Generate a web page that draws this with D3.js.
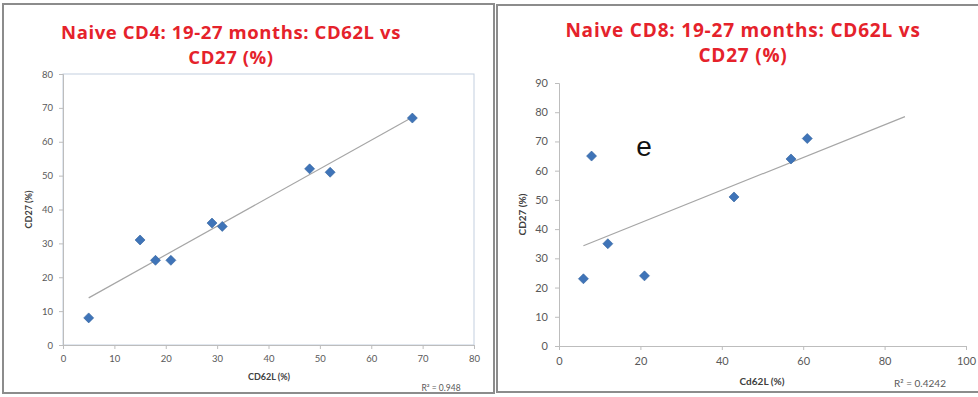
<!DOCTYPE html>
<html>
<head>
<meta charset="utf-8">
<script src="https://cdn.jsdelivr.net/npm/d3@7"></script>
<style>
  body { margin: 0; background: #fff; }
  svg { display: block; }
</style>
</head>
<body>
<svg width="978" height="397"></svg>
<script>
// left panel: naive CD4
var cd4X = [5, 15, 18, 21, 29, 31, 48, 52, 68];
var cd4Y = [8, 31, 25, 25, 36, 35, 52, 51, 67];
var cd4XTicks = [0, 10, 20, 30, 40, 50, 60, 70, 80];
var cd4YTicks = [0, 10, 20, 30, 40, 50, 60, 70, 80];
var cd4TrendRange = [5, 68];

// right panel: naive CD8
var cd8X = [6, 8, 12, 21, 43, 57, 61];
var cd8Y = [23, 65, 35, 24, 51, 64, 71];
var cd8XTicks = [0, 20, 40, 60, 80, 100];
var cd8YTicks = [0, 10, 20, 30, 40, 50, 60, 70, 80, 90];
var cd8TrendRange = [6, 85];

var svg = d3.select('svg');
var font = 'Lato, "Open Sans", sans-serif';
var titleFont = '"Open Sans", Lato, sans-serif';

// panel frames
svg.append('rect').attr('x', 3).attr('y', 4).attr('width', 491).attr('height', 389)
  .attr('fill', 'none').attr('stroke', '#8c8c8c').attr('stroke-width', 2);
svg.append('rect').attr('x', 497).attr('y', 5).attr('width', 490).attr('height', 387)
  .attr('fill', 'none').attr('stroke', '#8c8c8c').attr('stroke-width', 2);

function fit(xs, ys) {
  var mx = d3.mean(xs), my = d3.mean(ys);
  var sxy = d3.sum(xs, function(x, i){ return (x - mx) * (ys[i] - my); });
  var sxx = d3.sum(xs, function(x){ return (x - mx) * (x - mx); });
  var syy = d3.sum(ys, function(y){ return (y - my) * (y - my); });
  var slope = sxy / sxx;
  return { slope: slope, icpt: my - slope * mx, r2: sxy * sxy / (sxx * syy) };
}

function drawPanel(c) {
  var g = svg.append('g');
  var x = d3.scaleLinear().domain(d3.extent(c.xTicks)).range([c.left, c.right]);
  var y = d3.scaleLinear().domain(d3.extent(c.yTicks)).range([c.bottom, c.top]);

  // title
  var t = g.append('text').attr('x', c.titleX).attr('y', c.titleY)
    .attr('text-anchor', 'middle').attr('font-family', titleFont).attr('font-weight', 'bold')
    .attr('font-size', c.titleSize).attr('letter-spacing', c.titleSpacing).attr('fill', '#e5222b');
  c.title.forEach(function(line, i){
    t.append('tspan').attr('x', c.titleX).attr('dy', i ? 25 : 0).text(line);
  });

  if (c.box) {
    g.append('rect').attr('x', c.left).attr('y', c.top)
      .attr('width', c.right - c.left).attr('height', c.bottom - c.top)
      .attr('fill', 'none').attr('stroke', '#c3cfdf').attr('stroke-width', 1);
  }

  var xAxis = g.append('g').attr('transform', 'translate(0,' + c.bottom + ')')
    .call(d3.axisBottom(x).tickValues(c.xTicks).tickSize(4).tickPadding(c.pad));
  var yAxis = g.append('g').attr('transform', 'translate(' + c.left + ',0)')
    .call(d3.axisLeft(y).tickValues(c.yTicks).tickSize(4).tickPadding(c.pad));
  [xAxis, yAxis].forEach(function(a){
    a.select('.domain').attr('stroke', '#bdbdbd');
    a.selectAll('.tick line').attr('stroke', '#bdbdbd');
    a.selectAll('.tick text').attr('fill', '#595959').attr('font-family', font)
      .attr('font-size', c.tickSize);
  });

  // axis titles
  g.append('text').attr('x', c.xTitleX).attr('y', c.xTitleY).attr('text-anchor', 'middle')
    .attr('font-family', font).attr('font-weight', 'bold').attr('font-size', c.axisSize)
    .attr('fill', '#404040').text(c.xTitle);
  g.append('text').attr('transform', 'translate(' + c.yTitleX + ',' + ((c.top + c.bottom) / 2) + ') rotate(-90)')
    .attr('text-anchor', 'middle').attr('font-family', font).attr('font-weight', 'bold')
    .attr('font-size', c.axisSize).attr('fill', '#404040').text(c.yTitle);

  // trendline
  var f = fit(c.xs, c.ys);
  g.append('line')
    .attr('x1', x(c.trend[0])).attr('y1', y(f.icpt + f.slope * c.trend[0]))
    .attr('x2', x(c.trend[1])).attr('y2', y(f.icpt + f.slope * c.trend[1]))
    .attr('stroke', '#a6a6a6').attr('stroke-width', 1.2);

  // markers
  var diamond = d3.symbol().type(d3.symbolSquare).size(50);
  g.selectAll('path.pt').data(c.xs).enter().append('path').attr('class', 'pt')
    .attr('d', diamond)
    .attr('transform', function(d, i){ return 'translate(' + x(d) + ',' + y(c.ys[i]) + ') rotate(45)'; })
    .attr('fill', '#3f74b8').attr('stroke', '#34639f').attr('stroke-width', 0.6);

  g.append('text').attr('x', c.r2X).attr('y', c.r2Y).attr('text-anchor', 'middle')
    .attr('font-family', font).attr('font-size', c.r2Size).attr('fill', '#595959')
    .text('R² = ' + d3.format('.' + c.r2Digits + 'f')(f.r2));
  return g;
}

drawPanel({
  xs: cd4X, ys: cd4Y, xTicks: cd4XTicks, yTicks: cd4YTicks, trend: cd4TrendRange,
  left: 63, right: 474, top: 74, bottom: 345, box: true,
  title: ['Naive CD4: 19-27 months: CD62L vs', 'CD27 (%)'], titleX: 231, titleY: 39,
  titleSize: 18.5, titleSpacing: 0.6,
  pad: 6, tickSize: 9.5, axisSize: 9,
  xTitle: 'CD62L (%)', xTitleX: 269, xTitleY: 380, yTitle: 'CD27 (%)', yTitleX: 32,
  r2X: 441, r2Y: 391, r2Size: 8.5, r2Digits: 3
});

var right = drawPanel({
  xs: cd8X, ys: cd8Y, xTicks: cd8XTicks, yTicks: cd8YTicks, trend: cd8TrendRange,
  left: 559, right: 966, top: 83, bottom: 346, box: false,
  title: ['Naive CD8: 19-27 months: CD62L vs', 'CD27 (%)'], titleX: 743, titleY: 37,
  titleSize: 19, titleSpacing: 0.8,
  pad: 7, tickSize: 11, axisSize: 10,
  xTitle: 'Cd62L (%)', xTitleX: 762, xTitleY: 385, yTitle: 'CD27 (%)', yTitleX: 526,
  r2X: 920, r2Y: 387, r2Size: 10, r2Digits: 4
});

right.append('text').attr('x', 644).attr('y', 156).attr('text-anchor', 'middle')
  .attr('font-family', '"Liberation Sans", Arial, sans-serif').attr('font-size', 28)
  .attr('fill', '#111').text('e');
</script>
</body>
</html>
